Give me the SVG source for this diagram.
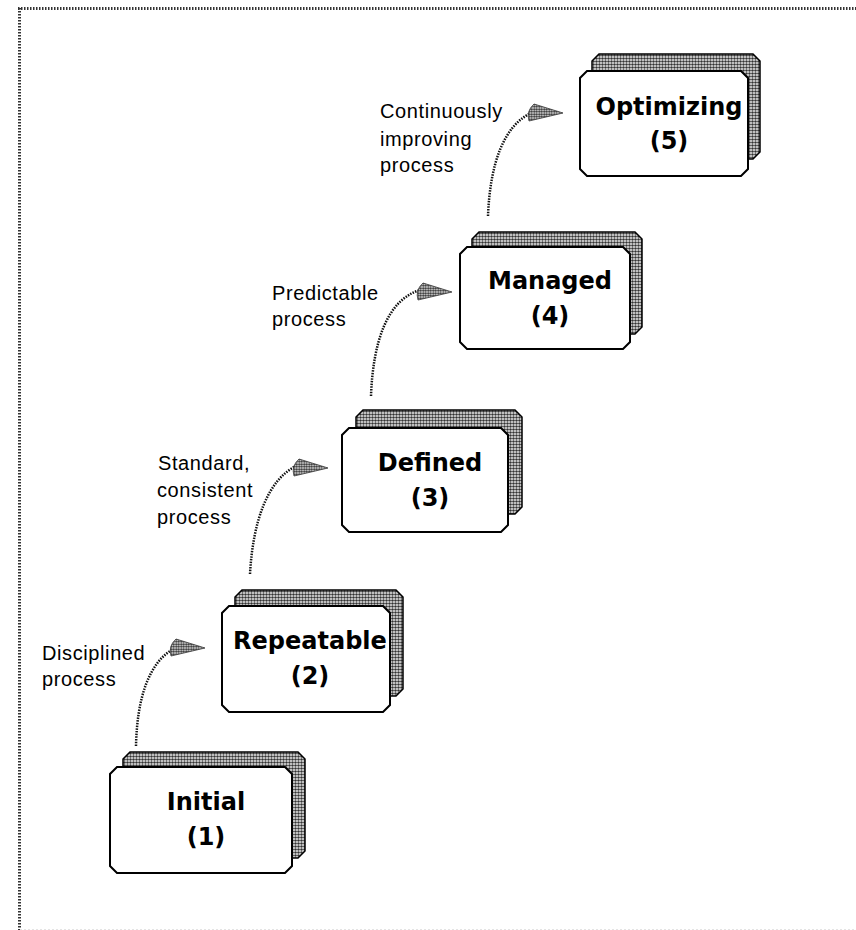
<svg xmlns="http://www.w3.org/2000/svg" xmlns:xlink="http://www.w3.org/1999/xlink" width="856" height="930" viewBox="0 0 856 930">
<style>
.front{fill:#fff;stroke:#000;stroke-width:2}
.back{fill:url(#dots);stroke:#000;stroke-width:1.5}
.title{font-family:"DejaVu Sans",sans-serif;font-weight:bold;font-size:24px;fill:#000;text-anchor:middle}
.lbl{font-family:"Liberation Sans",Arial,sans-serif;font-size:20px;fill:#000;letter-spacing:0.6px}
.curve{fill:none;stroke:#111;stroke-width:2.5;stroke-dasharray:1.5 1.2}
.head{fill:url(#dots2);stroke:#333;stroke-width:0.8}
.frame{stroke:#333;stroke-width:3;stroke-dasharray:1.5 1.5;fill:none}
</style>
<defs>
<pattern id="dots" width="3" height="3" patternUnits="userSpaceOnUse">
<rect width="3" height="3" fill="#fff"/>
<circle cx="1.5" cy="1.5" r="1.3" fill="#333"/>
</pattern>
<pattern id="dots2" width="2.5" height="2.5" patternUnits="userSpaceOnUse">
<rect width="2.5" height="2.5" fill="#fff"/>
<circle cx="1.25" cy="1.25" r="1.1" fill="#222"/>
</pattern>
<path id="head" d="M0,0 L-29,-9 Q-37,-2 -34,8 Z"/>
</defs>
<rect width="856" height="930" fill="#fff"/>
<g id="frame">
<line class="frame" x1="18" y1="8.5" x2="856" y2="8.5"/>
<line class="frame" x1="19.5" y1="8" x2="19.5" y2="930"/>
<line x1="20" y1="929.5" x2="856" y2="929.5" stroke="#e4e4e4" stroke-width="1" stroke-dasharray="2 2"/>
</g>
<g id="connectors">
<path class="curve" d="M136,746 C137,700 148,662 175,648"/>
<use href="#head" class="head" transform="translate(205,648)"/>
<path class="curve" d="M250,574 C253,520 268,480 296,466"/>
<use href="#head" class="head" transform="translate(328,468)"/>
<path class="curve" d="M371,396 C373,342 387,300 420,290"/>
<use href="#head" class="head" transform="translate(452,292)"/>
<path class="curve" d="M488,216 C490,165 503,125 533,112"/>
<use href="#head" class="head" transform="translate(563,113)"/>
</g>
<g id="labels">
<text class="lbl" x="42" y="660">Disciplined</text>
<text class="lbl" x="42" y="686">process</text>
<text class="lbl" x="158" y="470">Standard,</text>
<text class="lbl" x="157" y="497">consistent</text>
<text class="lbl" x="157" y="524">process</text>
<text class="lbl" x="272" y="300">Predictable</text>
<text class="lbl" x="272" y="326">process</text>
<text class="lbl" x="380" y="118">Continuously</text>
<text class="lbl" x="380" y="146">improving</text>
<text class="lbl" x="380" y="172">process</text>
</g>
<g id="node1" transform="translate(110,767)">
<path class="back" transform="translate(13,-15)" d="M7,0 H175 L182,7 V99 L175,106 H7 L0,99 V7 Z"/>
<path class="front" d="M7,0 H175 L182,7 V99 L175,106 H7 L0,99 V7 Z"/>
<text class="title" x="96" y="43">Initial</text>
<text class="title" x="96" y="78">(1)</text>
</g>
<g id="node2" transform="translate(222,606)">
<path class="back" transform="translate(13,-16)" d="M7,0 H161 L168,7 V99 L161,106 H7 L0,99 V7 Z"/>
<path class="front" d="M7,0 H161 L168,7 V99 L161,106 H7 L0,99 V7 Z"/>
<text class="title" x="88" y="43">Repeatable</text>
<text class="title" x="88" y="78">(2)</text>
</g>
<g id="node3" transform="translate(342,428)">
<path class="back" transform="translate(14,-18)" d="M7,0 H159 L166,7 V97 L159,104 H7 L0,97 V7 Z"/>
<path class="front" d="M7,0 H159 L166,7 V97 L159,104 H7 L0,97 V7 Z"/>
<text class="title" x="88" y="43">Defined</text>
<text class="title" x="88" y="78">(3)</text>
</g>
<g id="node4" transform="translate(460,247)">
<path class="back" transform="translate(12,-15)" d="M7,0 H163 L170,7 V95 L163,102 H7 L0,95 V7 Z"/>
<path class="front" d="M7,0 H163 L170,7 V95 L163,102 H7 L0,95 V7 Z"/>
<text class="title" x="90" y="42">Managed</text>
<text class="title" x="90" y="77">(4)</text>
</g>
<g id="node5" transform="translate(580,71)">
<path class="back" transform="translate(12,-17)" d="M7,0 H161 L168,7 V98 L161,105 H7 L0,98 V7 Z"/>
<path class="front" d="M7,0 H161 L168,7 V98 L161,105 H7 L0,98 V7 Z"/>
<text class="title" x="89" y="44">Optimizing</text>
<text class="title" x="89" y="78">(5)</text>
</g>
</svg>
